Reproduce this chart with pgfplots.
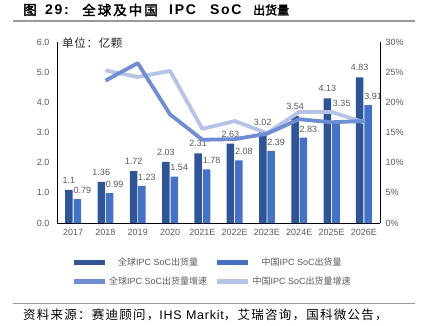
\documentclass[border=0pt]{standalone}
\usepackage{pgfplots}
\pgfplotsset{compat=1.18}
\usepackage{pgfplotstable}
\usepackage{fontspec}
\setmainfont{Liberation Sans}
\newfontfamily\cjk{Noto Sans CJK SC}[AutoFakeBold=2.5]
\newfontfamily\cjksp{Noto Sans CJK SC}[LetterSpace=6]
\newfontfamily\cjksrc{Noto Sans CJK SC}[LetterSpace=10]
\newfontfamily\cjkwide{Noto Sans CJK SC}[AutoFakeBold=2.5,LetterSpace=15]
\newfontfamily\lsans{Liberation Sans}[LetterSpace=6]
\newfontfamily\lsansb{Liberation Sans Bold}[LetterSpace=12]
\definecolor{barA}{HTML}{2F5597}
\definecolor{barB}{HTML}{4472C4}
\definecolor{lineA}{HTML}{6F8DD3}
\definecolor{lineB}{HTML}{B4C3E6}
\definecolor{txt}{HTML}{595959}
\pgfplotstableread{
x g c
0 1.1 0.79
1 1.36 0.99
2 1.72 1.23
3 2.03 1.54
4 2.31 1.78
5 2.63 2.08
6 3.02 2.39
7 3.54 2.83
8 4.13 3.35
9 4.83 3.91
}\shipdata
\pgfplotstableread{
x g c
1 23.6 25.3
2 26.5 24.2
3 18.0 25.2
4 13.8 15.6
5 13.9 16.9
6 14.8 14.9
7 17.2 18.4
8 16.7 18.4
9 16.9 16.7
}\growthdata
\begin{document}
\begin{tikzpicture}
\path[use as bounding box] (0pt,0pt) rectangle (423pt,-325pt);
% title
\node[anchor=west,inner sep=0pt] at (23pt,-10pt) {\fontsize{13.5pt}{15pt}\selectfont\bfseries\cjk 图};
\node[anchor=west,inner sep=0pt] at (45pt,-10pt) {\fontsize{14pt}{15pt}\selectfont\lsansb 29:};
\node[anchor=west,inner sep=0pt] at (82pt,-10pt) {\fontsize{13.5pt}{15pt}\selectfont\bfseries\cjkwide 全球及中国};
\node[anchor=west,inner sep=0pt] at (169pt,-10pt) {\fontsize{14pt}{15pt}\selectfont\lsansb IPC};
\node[anchor=west,inner sep=0pt] at (210pt,-10pt) {\fontsize{14pt}{15pt}\selectfont\lsansb SoC};
\node[anchor=west,inner sep=0pt] at (253pt,-10pt) {\fontsize{12pt}{15pt}\selectfont\bfseries\cjk 出货量};
\draw[gray!80, line width=1.2pt] (13pt,-21pt) -- (415pt,-21pt);
\draw[gray!80, line width=1pt] (13pt,-303pt) -- (415pt,-303pt);
\node[anchor=west,inner sep=0pt] at (23pt,-315pt) {\fontsize{12.5pt}{13pt}\selectfont{\cjksrc 资料来源：赛迪顾问，}{\lsans IHS Markit}{\cjksrc ，艾瑞咨询，国科微公告，}};
\begin{axis}[
  at={(57pt,-223pt)}, anchor=south west,
  scale only axis, width=323pt, height=181pt,
  xmin=-0.5, xmax=9.5, ymin=0, ymax=6,
  axis y line*=left, axis x line*=bottom,
  axis line style={black, line width=0.9pt, -},
  xtick={0,...,9},
  xticklabels={2017,2018,2019,2020,2021E,2022E,2023E,2024E,2025E,2026E},
  ytick={0,1,...,6},
  y tick label style={/pgf/number format/fixed, /pgf/number format/fixed zerofill, /pgf/number format/precision=1},
  /pgf/number format/assume math mode=true,
  major tick length=0pt,
  tick label style={font=\fontsize{9pt}{10pt}\selectfont, text=txt},
  xticklabel style={yshift=-3pt},
  yticklabel style={xshift=-4pt},
  ybar, bar width=7.5pt,
  nodes near coords,
  point meta=explicit symbolic,
  every node near coord/.append style={font=\fontsize{9pt}{10pt}\selectfont, text=txt, anchor=south},
  legend columns=2,
  legend style={at={(0.48,-0.17)}, anchor=north, draw=none, fill=none,
    font=\fontsize{9pt}{10pt}\selectfont, text=txt,
    /tikz/every even column/.append style={column sep=6pt},
    row sep=6pt},
  clip=false,
]
\addplot[fill=barA, draw=none, bar shift=-4.2pt,
  every node near coord/.append style={yshift=3pt},
  legend image code/.code={\draw[line width=4.5pt,barA] (0pt,0pt)--(31pt,0pt);}]
  table[x=x,y=g,meta=g]{\shipdata};
\addlegendentry{{\cjk 全球}IPC SoC{\cjk 出货量}}
\addplot[fill=barB, draw=none, bar shift=4.2pt,
  every node near coord/.append style={yshift=2pt, xshift=5pt},
  legend image code/.code={\draw[line width=4.5pt,barB] (0pt,0pt)--(31pt,0pt);}]
  table[x=x,y=c,meta=c, skip coords between index={8}{9}]{\shipdata};
\addlegendentry{{\cjk 中国}IPC SoC{\cjk 出货量}}
\addlegendimage{legend image code/.code={\draw[line width=4.5pt,lineA] (0pt,0pt)--(31pt,0pt);}}
\addlegendentry{{\cjk 全球}IPC SoC{\cjk 出货量增速}}
\addlegendimage{legend image code/.code={\draw[line width=4.5pt,lineB] (0pt,0pt)--(31pt,0pt);}}
\addlegendentry{{\cjk 中国}IPC SoC{\cjk 出货量增速}}
\addplot[fill=barB, draw=none, bar shift=4.2pt, forget plot,
  every node near coord/.append style={yshift=12pt, xshift=6pt}]
  table[x=x,y=c,meta=c, restrict x to domain=7.5:8.5]{\shipdata};
\end{axis}
\node[anchor=west,inner sep=0pt,text=black!85] at (62pt,-43pt) {\fontsize{11.5pt}{12pt}\selectfont\cjksp 单位：亿颗};
\begin{axis}[
  at={(57pt,-223pt)}, anchor=south west,
  scale only axis, width=323pt, height=181pt,
  xmin=-0.5, xmax=9.5, ymin=0, ymax=30,
  axis y line*=right, axis x line=none,
  axis line style={black, line width=0.9pt, -},
  ytick={0,5,...,30},
  yticklabel={\pgfmathprintnumber{\tick}\%},
  /pgf/number format/assume math mode=true,
  major tick length=0pt,
  tick label style={font=\fontsize{9pt}{10pt}\selectfont, text=txt},
  yticklabel style={xshift=2pt},
]
\addplot[lineB, line width=3.8pt, no markers, line join=round] table[x=x,y=c]{\growthdata};
\addplot[lineA, line width=3.8pt, no markers, line join=round] table[x=x,y=g]{\growthdata};
\end{axis}
\end{tikzpicture}
\end{document}
